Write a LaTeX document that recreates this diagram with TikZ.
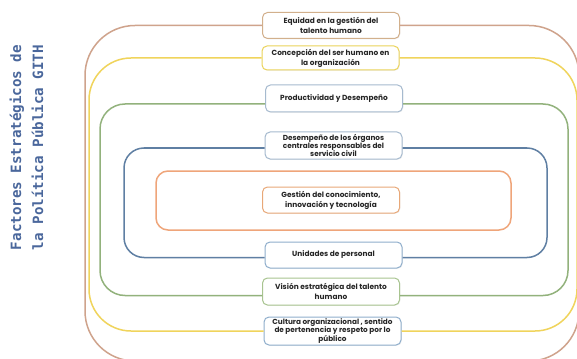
\documentclass[tikz,border=0pt]{standalone}
\usepackage{fontspec}
\setmainfont{Poppins}
\newfontfamily\titlefont{DejaVu Sans Mono}
\usetikzlibrary{shadows}
\definecolor{cBrown}{HTML}{CFA38C}
\definecolor{cYellow}{HTML}{F0D45C}
\definecolor{cGreen}{HTML}{92B27C}
\definecolor{cBlue}{HTML}{5F7FA3}
\definecolor{cOrange}{HTML}{EFA57A}
\definecolor{bTan}{HTML}{D2B08C}
\definecolor{bYellow}{HTML}{EBD35A}
\definecolor{bGray}{HTML}{A6BACF}
\definecolor{bOrange}{HTML}{E8A878}
\definecolor{bBlue}{HTML}{8FAECC}
\definecolor{bGreen}{HTML}{A8C490}
\definecolor{titleblue}{HTML}{4A679C}
\begin{document}
\begin{tikzpicture}[x=1pt,y=-1pt,
  factor/.style={draw, rounded corners=5pt, fill=white, line width=1pt,
    minimum width=137pt, minimum height=26pt, align=center, inner sep=1pt,
    font=\fontsize{7.4}{10}\selectfont\bfseries, text=black!85,
    drop shadow={opacity=0.12, shadow xshift=0.8pt, shadow yshift=-0.8pt}},
  tight/.style={font=\fontsize{7.3}{8.4}\selectfont\bfseries},
  ring/.style={line width=1.5pt}]
\useasboundingbox (0,0) rectangle (577,358);
\fill[white] (0,0) rectangle (577,358);

\node[rotate=90, align=center, text=titleblue,
  font=\titlefont\bfseries\fontsize{14.2}{22}\selectfont] (title) at (26.5,147.5)
  {Factores Estratégicos de\\la Política Pública GITH};

\coordinate (xBr) at (579,0);
\coordinate (xBl) at (85,0);
\coordinate (yBb) at (0,361);
\coordinate (xYr) at (577,0);
\coordinate (xYl) at (89,0);
\coordinate (xGr) at (568,0);
\coordinate (xGl) at (100,0);
\coordinate (xUr) at (547,0);
\coordinate (xUl) at (124,0);

\node[factor, draw=bTan] (B1) at (331,25.5) {Equidad en la gestión del\\talento humano};
\node[factor, draw=bYellow, minimum height=24pt] (B2) at (330.5,58) {Concepción del ser humano en\\la organización};
\node[factor, draw=bGray, minimum height=27pt] (B3) at (334,98.5) {Productividad y Desempeño};
\node[factor, tight, draw=bGray, minimum height=27pt] (B4) at (333.5,145.5) {Desempeño de los órganos\\centrales responsables del\\servicio civil};
\node[factor, draw=bOrange] (B5) at (331,200) {Gestión del conocimiento,\\innovación y tecnología};
\node[factor, draw=bBlue] (B6) at (333.5,255) {Unidades de personal};
\node[factor, draw=bGreen, minimum height=27pt] (B7) at (331,291.5) {Visión estratégica del talento\\humano};
\node[factor, tight, draw=bBlue, minimum height=28pt] (B8) at (332.5,331) {Cultura organizacional , sentido\\de pertenencia y respeto por lo\\público};

\coordinate (g1e) at ([yshift=-5.5pt]B3.east);
\coordinate (g1w) at ([yshift=-5.5pt]B3.west);
\coordinate (g2e) at ([yshift=-4pt]B7.east);
\coordinate (g2w) at ([yshift=-4pt]B7.west);
\coordinate (u1e) at ([yshift=-2.5pt]B4.east);
\coordinate (u1w) at ([yshift=-2.5pt]B4.west);
\coordinate (u2e) at ([yshift=-2.5pt]B6.east);
\coordinate (u2w) at ([yshift=-2.5pt]B6.west);

% brown outer ring
\draw[ring, cBrown, rounded corners=50pt] (B1.east) -- (B1.east -| xBr) -- (xBr |- yBb) -- (xBl |- yBb) -- (B1.west -| xBl) -- (B1.west);
% yellow ring
\draw[ring, cYellow, rounded corners=42pt] (B2.east) -- (B2.east -| xYr) -- (B8.east -| xYr) -- (B8.east);
\draw[ring, cYellow, rounded corners=42pt] (B8.west) -- (B8.west -| xYl) -- (B2.west -| xYl) -- (B2.west);
% green ring
\draw[ring, cGreen, rounded corners=25pt] (g1e) -- (g1e -| xGr) -- (g2e -| xGr) -- (g2e);
\draw[ring, cGreen, rounded corners=25pt] (g2w) -- (g2w -| xGl) -- (g1w -| xGl) -- (g1w);
% blue ring
\draw[ring, cBlue, rounded corners=20pt] (u1e) -- (u1e -| xUr) -- (u2e -| xUr) -- (u2e);
\draw[ring, cBlue, rounded corners=20pt] (u2w) -- (u2w -| xUl) -- (u1w -| xUl) -- (u1w);
% orange inner ring
\draw[ring, cOrange, rounded corners=12pt] (156,171) rectangle (511,230);
\end{tikzpicture}
\end{document}
